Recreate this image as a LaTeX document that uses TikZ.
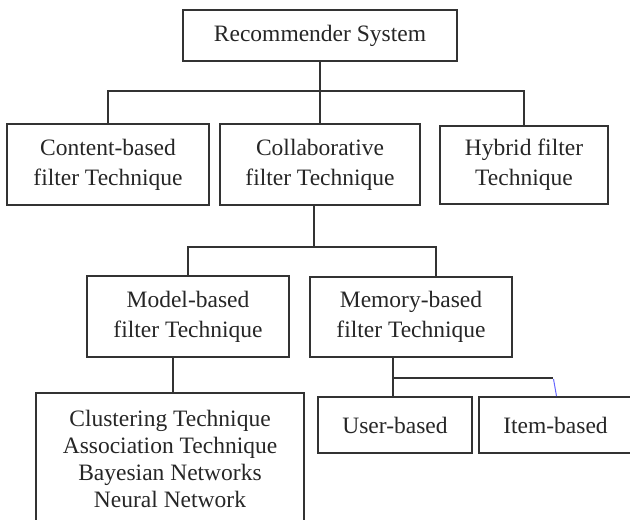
\documentclass[tikz,border=0pt]{standalone}
\usepackage{fontspec}
\setmainfont{Liberation Serif}
\usetikzlibrary{positioning}

\begin{document}
\begin{tikzpicture}[x=1pt,y=-1pt,node distance=3cm,on grid,
  box/.style={draw=black!80,line width=2pt,rectangle,align=center,inner sep=0pt,
    text=black!85,font=\fontsize{23.5}{30}\selectfont},
  link/.style={draw=black!80,line width=1.9pt}]
\useasboundingbox (0,0) rectangle (630,520);
\clip (0,0) rectangle (630,520);
  \node[box,minimum width=274pt,minimum height=51pt] (R)  at (320,35.5) {Recommender System};
  \node[box,minimum width=200pt,minimum height=81pt] (CF) [below =129pt of R] {Collaborative\\filter Technique};
  \node[box,minimum width=202pt,minimum height=81pt] (CB) [left =212pt of CF] {Content-based\\filter Technique};
  \node[box,minimum width=168pt,minimum height=78pt] (HF) [right =204pt of CF] {Hybrid filter\\Technique};
  \node[box,minimum width=202pt,minimum height=81pt] (MB) [below left =152pt and 132pt of CF] {Model-based\\filter Technique};
  \node[box,minimum width=202pt,minimum height=80pt] (MM) [right =223pt of MB] {Memory-based\\filter Technique};
  \node[box,minimum width=268pt,minimum height=132pt,font=\fontsize{23.5}{27}\selectfont] (L)
       [below left =142.5pt and 18pt of MB] {Clustering Technique\\Association Technique\\Bayesian Networks\\Neural Network};
  \node[box,minimum width=154pt,minimum height=56pt] (U)  [below left =108.5pt and 16pt of MM] {User-based};
  \node[box,minimum width=153pt,minimum height=56pt] (I)  [right =160.5pt of U] {Item-based};

  \coordinate (b1) at ([yshift=-29pt]R.south);
  \coordinate (c1) at ([xshift=-6pt]CF.south);
  \coordinate (b2) at ([yshift=-41pt]c1);
  \coordinate (m1) at ([xshift=-15pt]MB.south);
  \coordinate (u1) at ([xshift=-18pt]MM.south);
  \coordinate (b3) at ([yshift=-20.5pt]u1);
  \coordinate (i1) at ([xshift=-3pt]I.north);
  \coordinate (b3e) at (b3 -| i1);

  \draw[link] (R.south) -- (b1);
  \draw[link] (CB.north) |- (b1) -| (HF.north);
  \draw[link] (b1) -- (CF.north);
  \draw[link] (c1) -- (b2);
  \draw[link] (MB.north) |- (b2) -| ([xshift=25pt]MM.north);
  \draw[link] (m1) -- (m1 |- L.north);
  \draw[link] (u1) -- (u1 |- U.north);
  \draw[link] (b3) -- (b3e);
  \draw[blue!60,line width=1pt] ([xshift=-2pt,yshift=17pt]I.north) -- ([xshift=1pt]I.north);
\end{tikzpicture}
\end{document}
